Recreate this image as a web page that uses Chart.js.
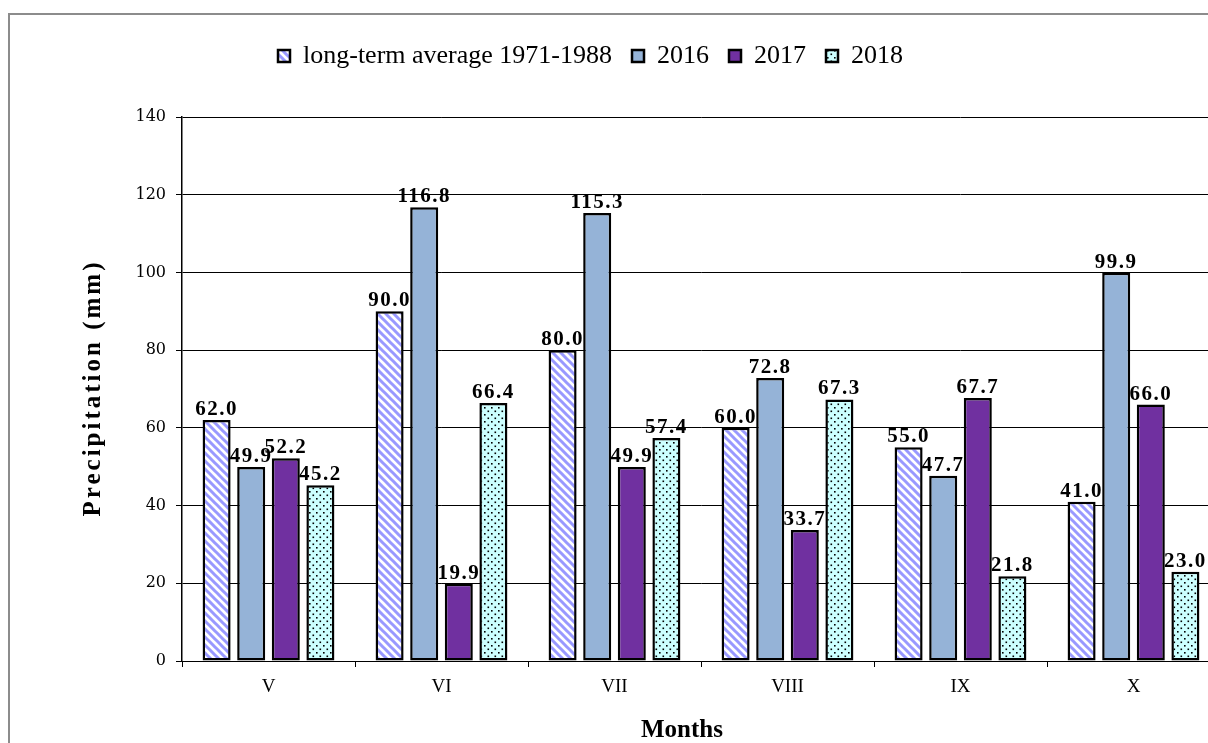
<!DOCTYPE html>
<html>
<head>
<meta charset="utf-8">
<script src="https://cdn.jsdelivr.net/npm/chart.js@4.4.0/dist/chart.umd.min.js"></script>
<style>
  html, body { margin: 0; padding: 0; background: #fff; overflow: hidden; }
  #wrap { position: relative; width: 1208px; height: 743px; overflow: hidden; }
  #frame { position: absolute; left: 8px; top: 13px; width: 1300px; height: 800px; border: 2px solid #8c8c8c; box-sizing: border-box; }
  #chartBox { position: absolute; left: 0; top: 0; width: 1236px; height: 750px; }
</style>
</head>
<body>
<div id="wrap">
  <div id="frame"></div>
  <div id="chartBox"><canvas id="myChart" width="1236" height="750"></canvas></div>
</div>
<script>
// Months (Roman numerals) and precipitation series, mm
const months = ["V", "VI", "VII", "VIII", "IX", "X"];
const seriesNames = ["long-term average 1971-1988", "2016", "2017", "2018"];
const longTermAvg = [62.0, 90.0, 80.0, 60.0, 55.0, 41.0];
const rain2016 = [49.9, 116.8, 115.3, 72.8, 47.7, 99.9];
const rain2017 = [52.2, 19.9, 49.9, 33.7, 67.7, 66.0];
const rain2018 = [45.2, 66.4, 57.4, 67.3, 21.8, 23.0];
const yTicks = [0, 20, 40, 60, 80, 100, 120, 140];

// Small canvas patterns like the old office fills
const makeHatch = () => {
  const c = document.createElement("canvas");
  c.width = 8;
  c.height = 8;
  const g = c.getContext("2d");
  g.fillStyle = "#ffffff";
  g.fillRect(0, 0, 8, 8);
  g.strokeStyle = "#9999ff";
  g.lineWidth = 3;
  g.beginPath();
  g.moveTo(-2, -2); g.lineTo(10, 10);
  g.moveTo(-2, 6); g.lineTo(2, 10);
  g.moveTo(6, -2); g.lineTo(10, 2);
  g.stroke();
  return g.createPattern(c, "repeat");
};

const makeDots = () => {
  const c = document.createElement("canvas");
  c.width = 7;
  c.height = 7;
  const g = c.getContext("2d");
  g.fillStyle = "#ccffff";
  g.fillRect(0, 0, 7, 7);
  g.fillStyle = "#000000";
  g.fillRect(1, 1, 1.6, 1.6);
  g.fillRect(4.5, 4.5, 1.6, 1.6);
  return g.createPattern(c, "repeat");
};

const fills = [makeHatch(), "#95b3d7", "#7030a0", makeDots()];
const values = [longTermAvg, rain2016, rain2017, rain2018];

// Legend: extra room below it, and placed where the original sits
const legendLeft = 258;
const legendTop = 23;
const legendBlock = {
  id: "legendBlock",
  beforeInit(chart) {
    const fit = chart.legend.fit;
    chart.legend.fit = function () {
      fit.call(this);
      this.height = 117;
    };
  },
  beforeDraw(chart) {
    chart.legend.left = legendLeft;
    chart.legend.top = legendTop;
  },
};

// Value labels above bars
const barLabels = {
  id: "barLabels",
  afterDatasetsDraw(chart) {
    const ctx = chart.ctx;
    ctx.save();
    ctx.font = "bold 21px 'Liberation Serif'";
    ctx.letterSpacing = "1.5px";
    ctx.fillStyle = "#000";
    ctx.textAlign = "center";
    ctx.textBaseline = "alphabetic";
    chart.data.datasets.forEach((ds, i) => {
      chart.getDatasetMeta(i).data.forEach((bar, j) => {
        ctx.fillText(ds.data[j].toFixed(1), bar.x, bar.y - 5);
      });
    });
    ctx.restore();
  },
};

// Axis titles, placed as in the original
const axisTitles = {
  id: "axisTitles",
  afterDraw(chart) {
    const ctx = chart.ctx;
    ctx.save();
    ctx.fillStyle = "#000";
    ctx.textAlign = "center";
    ctx.textBaseline = "middle";
    ctx.font = "bold 25px 'Liberation Serif'";
    ctx.fillText("Months", 682, 731);
    ctx.translate(94, 388);
    ctx.rotate(-Math.PI / 2);
    ctx.letterSpacing = "3px";
    ctx.fillText("Precipitation (mm)", 0, 0);
    ctx.restore();
  },
};

const chrt = document.getElementById("myChart");

new Chart(chrt, {
  type: "bar",
  data: {
    labels: months,
    datasets: values.map((v, i) => ({
      label: seriesNames[i],
      data: v,
      backgroundColor: fills[i],
      borderColor: "#000000",
      borderWidth: 2.5,
      borderSkipped: false,
      categoryPercentage: 0.8,
      barPercentage: 0.81,
    })),
  },
  options: {
    responsive: false,
    animation: false,
    layout: { padding: { left: 0, right: 16, top: 0, bottom: 0 } },
    plugins: {
      legend: {
        position: "top",
        align: "start",
        labels: {
          boxWidth: 12,
          boxHeight: 12,
          padding: 20,
          color: "#000",
          font: { family: "'Liberation Serif'", size: 26 },
        },
      },
      tooltip: { enabled: false },
    },
    scales: {
      x: {
        grid: {
          display: true,
          drawOnChartArea: false,
          drawTicks: true,
          tickLength: 6,
          color: "#000",
        },
        border: { display: true, color: "#000", width: 1 },
        ticks: {
          color: "#000",
          padding: 9,
          font: { family: "'Liberation Serif'", size: 19 },
        },
        afterFit: (scale) => { scale.height = 89; },
      },
      y: {
        min: 0,
        max: 140,
        afterBuildTicks: (scale) => {
          scale.ticks = yTicks.map((v) => ({ value: v }));
        },
        grid: {
          color: "#000",
          lineWidth: 1,
          tickLength: 6,
        },
        border: { display: true, color: "#000", width: 1.5 },
        ticks: {
          color: "#000",
          padding: 10,
          font: { family: "'DejaVu Serif'", size: 16 },
        },
        afterFit: (scale) => { scale.width = 182; },
      },
    },
  },
  plugins: [legendBlock, barLabels, axisTitles],
});
</script>
</body>
</html>
